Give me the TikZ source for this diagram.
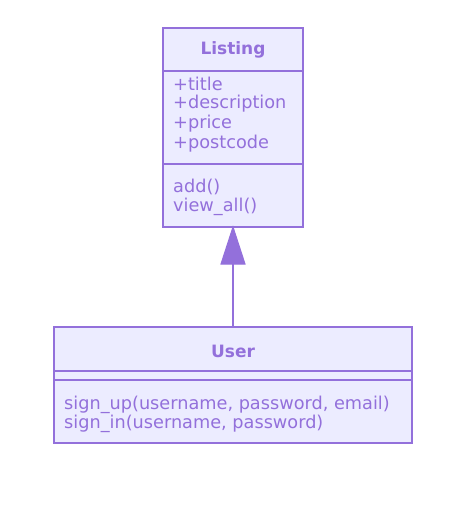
\documentclass[tikz,border=0pt]{standalone}
\usepackage{fontspec}
\setmainfont{DejaVu Sans}
\usetikzlibrary{calc}
\definecolor{cfill}{HTML}{ECECFF}
\definecolor{cline}{HTML}{9370DB}
\begin{document}
\begin{tikzpicture}[x=1pt,y=-1pt,
  box/.style={draw=cline,fill=cfill,line width=1.4pt},
  sep/.style={draw=cline,line width=1.4pt},
  ttl/.style={font=\fontsize{17}{20}\selectfont\bfseries,text=cline,inner sep=0pt},
  mem/.style={font=\fontsize{17.7}{20}\selectfont,text=cline,inner sep=0pt,anchor=west},
  inh/.style={draw=cline,line width=1.4pt}]
\useasboundingbox (0,0) rectangle (470,508);
% Listing
\path[box] (163,28) rectangle (303,227);
\draw[sep] (163,71) -- (303,71);
\draw[sep] (163,164) -- (303,164);
\node[ttl] (lt) at (233,50) {Listing};
\node[mem] (l1) at (173,84) {+title};
\node[mem] (l2) at (173,104) {+description};
\node[mem] (l3) at (173,124) {+price};
\node[mem] (l4) at (173,144) {+postcode};
\node[mem] (l5) at (173,187) {add()};
\node[mem] (l6) at (173,207) {view\_all()};
\coordinate (ltop) at (233,227);
% User
\path[box] (54,327) rectangle (412,443);
\draw[sep] (54,371) -- (412,371);
\draw[sep] (54,380) -- (412,380);
\node[ttl] (ut) at (233,351) {User};
\node[mem] (u1) at (64,405) {sign\_up(username, password, email)};
\node[mem] (u2) at (64,424) {sign\_in(username, password)};
\coordinate (utop) at (233,327);
\coordinate (tb) at (233,264);
% inheritance
\draw[inh] (utop) -- (tb);
\filldraw[draw=cline,fill=cline,line width=1pt,line join=miter] (ltop) -- ($(tb)+(-12,0)$) -- ($(tb)+(12,0)$) -- cycle;
\end{tikzpicture}
\end{document}
